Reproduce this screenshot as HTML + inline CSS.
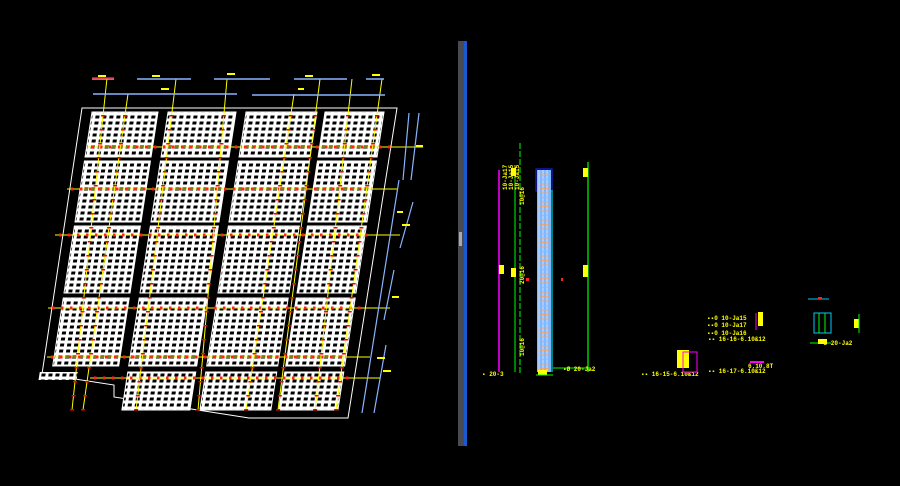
<!DOCTYPE html>
<html><head><meta charset="utf-8"><style>
html,body{margin:0;padding:0;background:#000;width:900px;height:486px;overflow:hidden}
svg{display:block}
text{font-family:"Liberation Mono",monospace;fill:#ff0;font-size:6px;font-weight:bold}
</style></head><body>
<svg id="s" width="900" height="486" viewBox="0 0 900 486" xmlns="http://www.w3.org/2000/svg">
<defs>
<pattern id="g" width="7" height="6" patternUnits="userSpaceOnUse">
<rect width="7" height="6" fill="#fff"/><rect x="1.5" y="1.5" width="4" height="3" fill="#000"/>
</pattern>
</defs>
<rect width="900" height="486" fill="#000"/>
<polygon points="82,108 397,108 348,418 249,418 114,397 114,385 42,374" fill="none" stroke="#fff" stroke-width="1"/>
<g id="panels" transform="skewX(-8.8)"></g>
<g id="ov"></g>
<g stroke="#8ab4ff" stroke-width="1.5">
<line x1="92" y1="79" x2="114" y2="79"/><line x1="137" y1="79" x2="191" y2="79"/>
<line x1="214" y1="79" x2="270" y2="79"/><line x1="294" y1="79" x2="347" y2="79"/><line x1="366" y1="79" x2="384" y2="79"/>
<line x1="93" y1="94" x2="237" y2="94"/><line x1="252" y1="95" x2="385" y2="95"/>
</g>
<line x1="92" y1="78" x2="114" y2="78" stroke="#f22" stroke-width="1.5"/>
<g fill="#ff0"><rect x="98" y="75" width="8" height="2"/><rect x="152" y="75" width="8" height="2"/><rect x="227" y="73" width="8" height="2"/><rect x="305" y="75" width="8" height="2"/><rect x="372" y="74" width="8" height="2"/><rect x="161" y="88" width="8" height="2"/><rect x="298" y="88" width="6" height="2"/></g>
<g stroke="#8ab4ff" stroke-width="1.2" fill="none">
<polyline points="409,113 403,180"/><polyline points="419,113 411,180"/>
<polyline points="399,180 362,413"/><polyline points="413,202 400,248"/><polyline points="394,270 384,320"/><polyline points="386,345 374,413"/>
</g>
<g fill="#ff0"><rect x="416" y="145" width="7" height="2"/><rect x="397" y="211" width="6" height="2"/><rect x="402" y="224" width="8" height="2"/><rect x="392" y="296" width="7" height="2"/><rect x="377" y="357" width="8" height="2"/><rect x="383" y="370" width="8" height="2"/></g>
<rect x="458" y="41" width="6" height="405" fill="#4a4a52"/>
<rect x="464" y="41" width="3" height="405" fill="#1a5ad0"/>
<rect x="459" y="232" width="3" height="14" fill="#aaa"/>
<line x1="499" y1="170" x2="499" y2="372" stroke="#f0f" stroke-width="1.5"/>
<line x1="515" y1="165" x2="515" y2="372" stroke="#0f0" stroke-width="1"/>
<line x1="520" y1="143" x2="520" y2="375" stroke="#0f0" stroke-width="1" stroke-dasharray="6,2"/>
<line x1="588" y1="162" x2="588" y2="372" stroke="#0f0" stroke-width="1.2"/>
<rect x="536" y="169" width="16" height="22" fill="none" stroke="#22f" stroke-width="1"/>
<rect x="537" y="170" width="14" height="202" fill="#7ab8ff"/>
<g id="col"></g>
<rect x="538" y="370" width="9" height="5" fill="#ff0"/>
<line x1="536" y1="375" x2="553" y2="375" stroke="#0f0"/>
<line x1="553" y1="368" x2="590" y2="368" stroke="#0f0"/>
<g fill="#ff0"><rect x="511" y="168" width="5" height="8"/><rect x="499" y="265" width="5" height="9"/><rect x="511" y="268" width="5" height="9"/><rect x="583" y="168" width="5" height="9"/><rect x="583" y="265" width="5" height="12"/></g>
<rect x="526" y="278" width="3" height="3" fill="#f22"/><rect x="561" y="278" width="2" height="3" fill="#f22"/>
<text x="482" y="376">▪ 20-3</text><text x="563" y="371">▪Ø 20-Ja2</text>
<text transform="translate(507,190) rotate(-90)">10-Ja17</text>
<text transform="translate(513,190) rotate(-90)">10-Ja15</text>
<text transform="translate(519,190) rotate(-90)">10-Ja15</text>
<text transform="translate(524,205) rotate(-90)">10@16</text>
<text transform="translate(524,284) rotate(-90)">20@16</text>
<text transform="translate(524,356) rotate(-90)">10@16</text>
<text x="707" y="320">▪▪0 10-Ja15</text><text x="707" y="327">▪▪0 10-Ja17</text><text x="707" y="335">▪▪0 10-Ja16</text>
<text x="708" y="341">▪▪ 16-16-6.10&amp;12</text>
<text x="708" y="373">▪▪ 16-17-6.10&amp;12</text>
<text x="641" y="376">▪▪ 16-15-6.10&amp;12</text>
<text x="820" y="345">▪Ø 20-Ja2</text><text x="748" y="368">6.10.8T</text>
<rect x="814" y="313" width="17" height="20" fill="none" stroke="#0cf"/>
<line x1="819" y1="313" x2="819" y2="333" stroke="#0f0"/><line x1="825" y1="313" x2="825" y2="333" stroke="#0f0"/>
<line x1="810" y1="343" x2="831" y2="343" stroke="#0f0"/><rect x="818" y="339" width="9" height="5" fill="#ff0"/>
<line x1="808" y1="299" x2="829" y2="299" stroke="#0cf"/><rect x="818" y="297" width="4" height="2" fill="#f22"/>
<rect x="854" y="319" width="5" height="9" fill="#ff0"/><line x1="859" y1="314" x2="859" y2="333" stroke="#0f0"/>
<rect x="758" y="312" width="5" height="14" fill="#ff0"/><line x1="756" y1="313" x2="756" y2="330" stroke="#f0f"/>
<rect x="677" y="350" width="12" height="18" fill="#ff0"/><rect x="683" y="352" width="14" height="20" fill="none" stroke="#f0f"/>
<line x1="750" y1="362" x2="764" y2="362" stroke="#f0f" stroke-width="2"/>
</svg>
<script>
const NS="http://www.w3.org/2000/svg",k=0.155;
function el(p,t,a){const e=document.createElementNS(NS,t);for(const i in a)e.setAttribute(i,a[i]);p.appendChild(e);return e;}
const P=document.getElementById('panels'),O=document.getElementById('ov');
const rows=[[112,157],[161,222],[226,293],[298,366],[372,410]];
const cols=[[92,158],[168,236],[246,317],[325,384]];
rows.forEach((r,ri)=>cols.forEach((c,ci)=>{
 if(ri==4&&ci==0){el(P,'rect',{x:c[0]+k*112-12,y:r[0],width:c[1]-c[0]-28,height:8,fill:'url(#g)'});return;}
 let x=c[0]+k*112, w=c[1]-c[0];
 el(P,'rect',{x:x,y:r[0],width:w,height:r[1]-r[0],fill:'url(#g)',stroke:'#fff','stroke-width':1});
}));
[[87,147,423],[67,189,398],[55,235,400],[48,308,390],[47,357,370],[90,378,380]].forEach(h=>{
 el(O,'line',{x1:h[0],y1:h[1],x2:h[2],y2:h[1],stroke:'#ff0','stroke-width':1});
 for(let x=h[0]+4;x<h[2]-30;x+=9)el(O,'rect',{x:x,y:h[1]-1.5,width:2.5,height:3,fill:'#f22'});
});
[[107,78,72,410],[128,94,83,410],[176,79,136,410],[227,79,198,410],[294,94,246,410],[320,79,278,410],[352,79,315,410],[382,79,336,410]].forEach(v=>{
 el(O,'line',{x1:v[0],y1:v[1],x2:v[2],y2:v[3],stroke:'#ff0','stroke-width':1});
 for(let y=115;y<v[3];y+=14){const x=v[0]+(v[2]-v[0])*(y-v[1])/(v[3]-v[1]);el(O,'rect',{x:x-2,y:y,width:4,height:1.5,fill:'#f00'});}
});
const C=document.getElementById('col');
[539,543,547].forEach(x=>el(C,'line',{x1:x,y1:170,x2:x,y2:372,stroke:'#c8d8ff','stroke-width':1.2}));
for(let y=175;y<370;y+=4.5)el(C,'line',{x1:540,y1:y,x2:550,y2:y,stroke:'#f5a060','stroke-width':0.8});
el(C,'line',{x1:552,y1:190,x2:552,y2:372,stroke:'#0ff','stroke-width':1});
</script>
</body></html>
